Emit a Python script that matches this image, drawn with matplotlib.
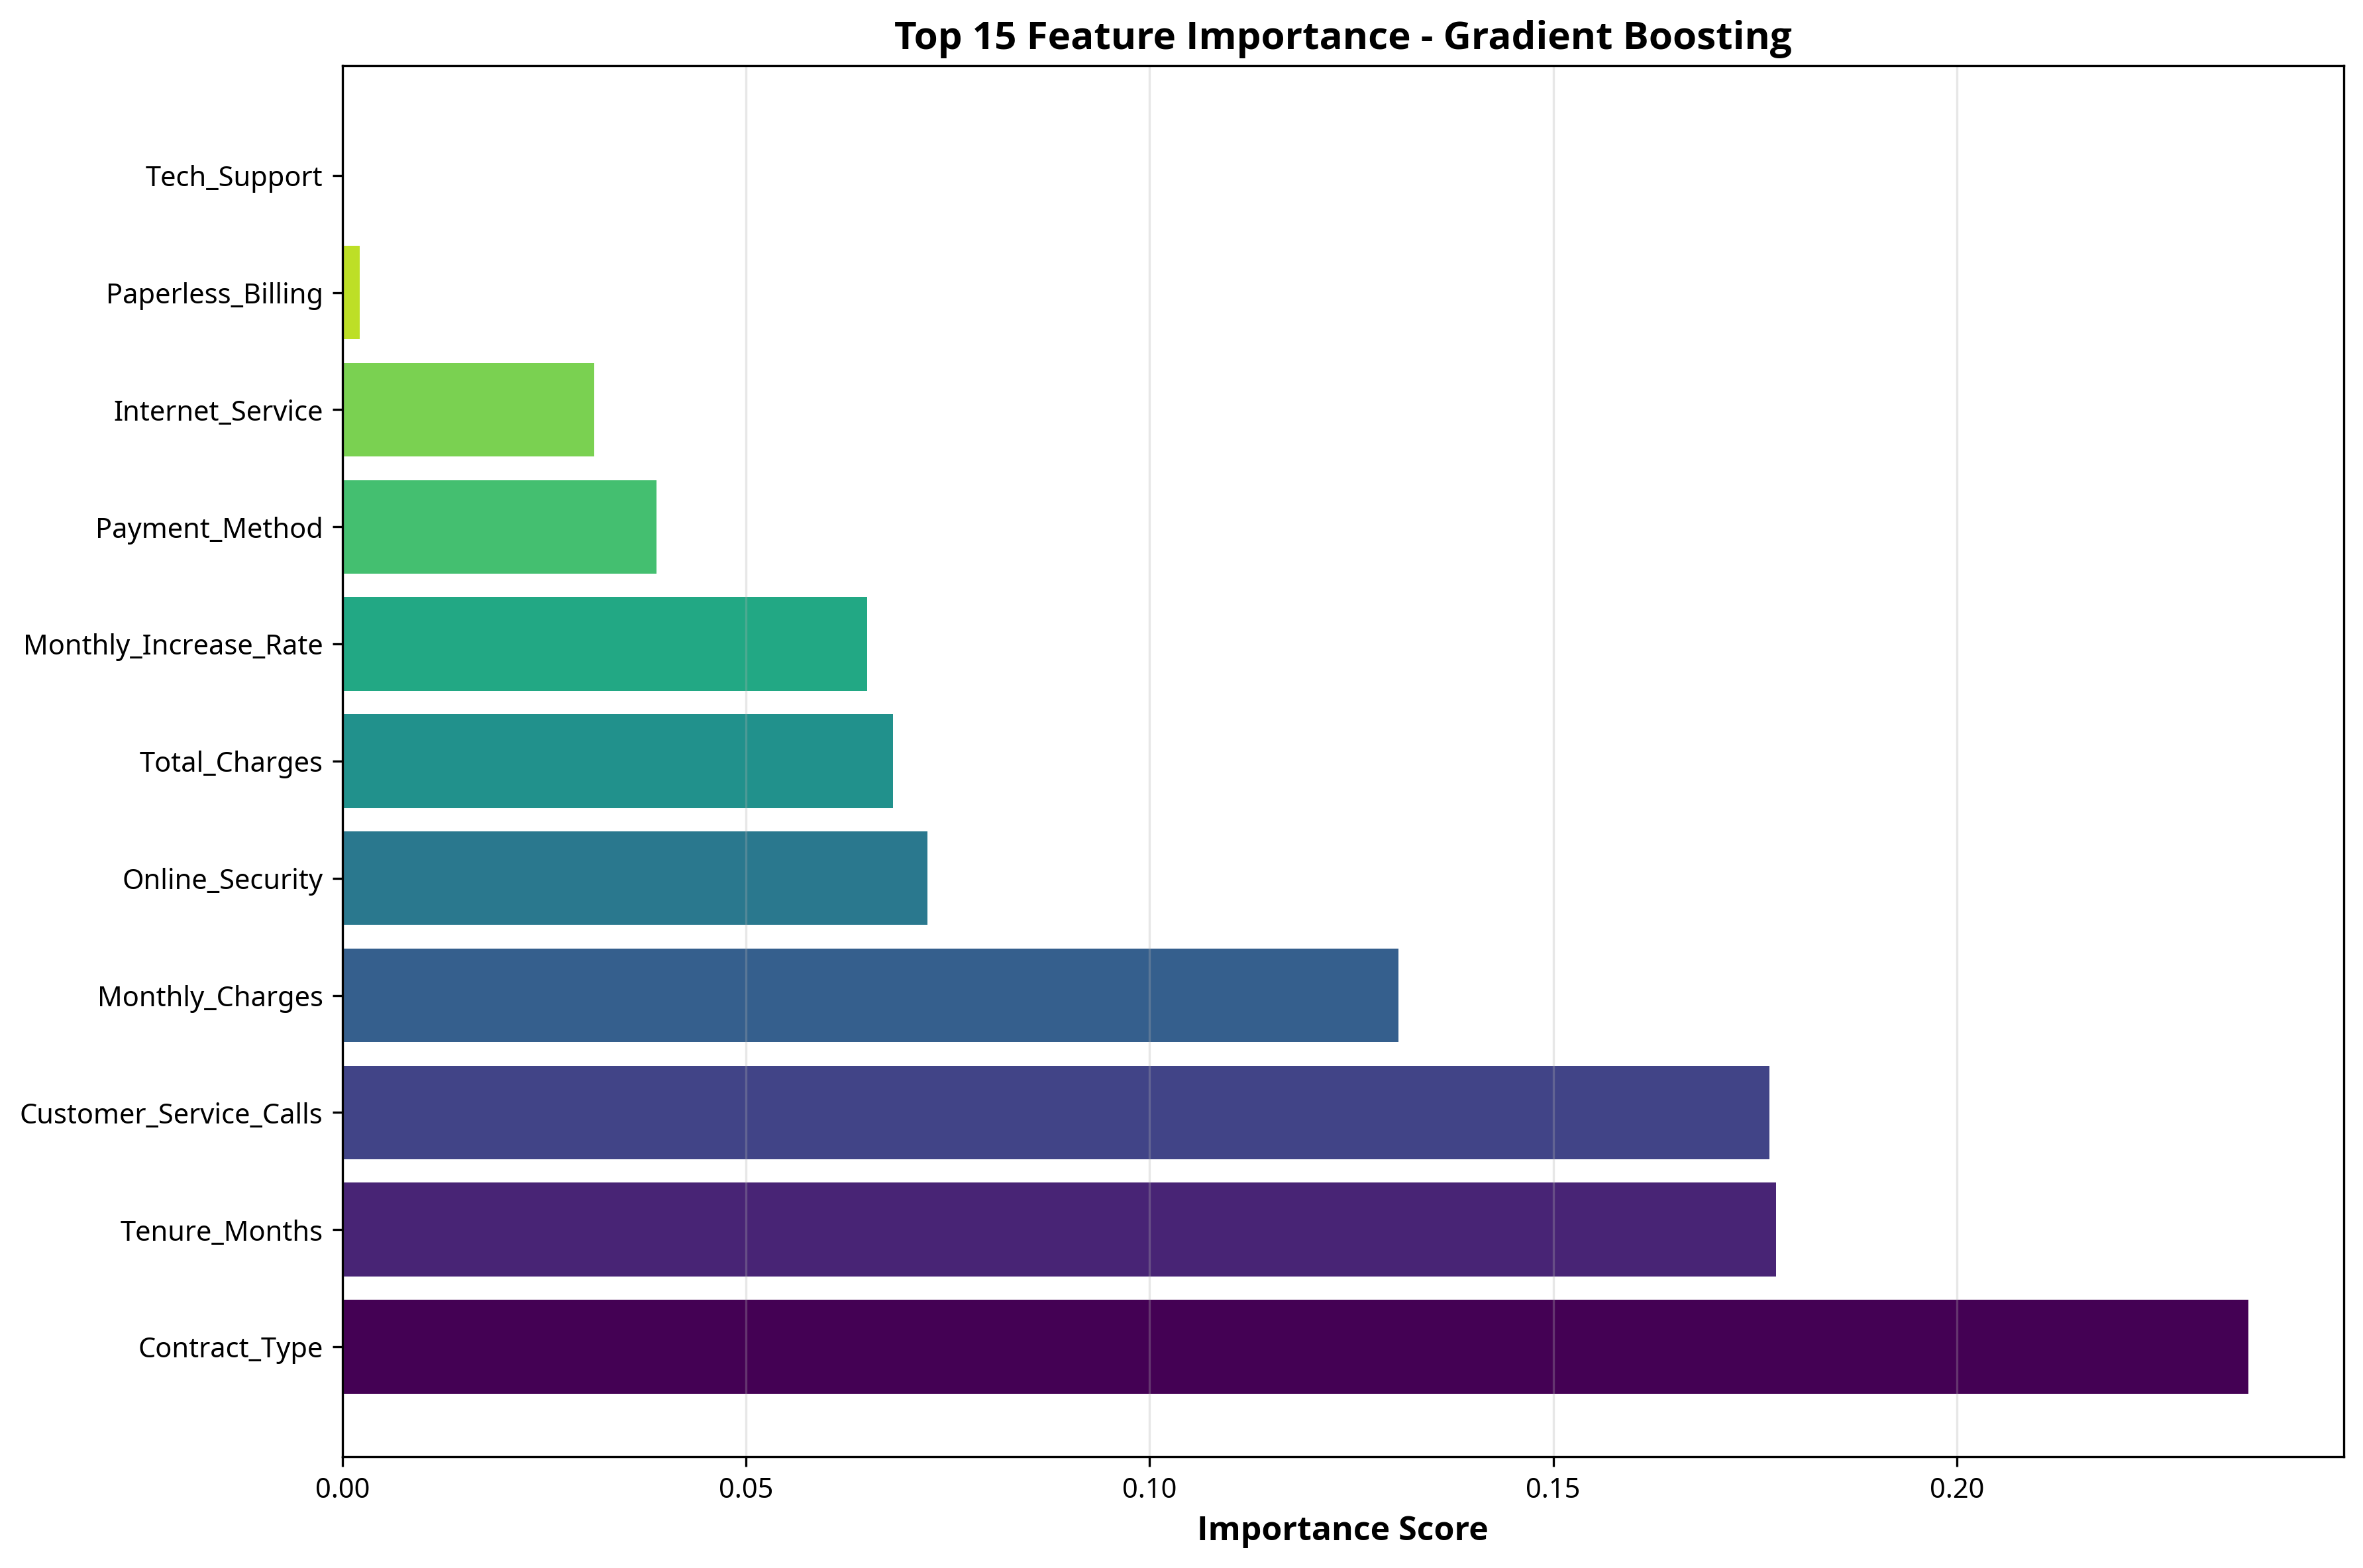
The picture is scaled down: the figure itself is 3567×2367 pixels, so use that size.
import numpy as np
import matplotlib
matplotlib.use("Agg")
import matplotlib.pyplot as plt

plt.rcParams['font.family'] = ['Noto Sans', 'DejaVu Sans']

features = ['Contract_Type', 'Tenure_Months', 'Customer_Service_Calls',
            'Monthly_Charges', 'Online_Security', 'Total_Charges',
            'Monthly_Increase_Rate', 'Payment_Method', 'Internet_Service',
            'Paperless_Billing', 'Tech_Support']
importance = [0.2361, 0.1776, 0.1768, 0.1308, 0.0725, 0.0682,
              0.0650, 0.0389, 0.0312, 0.0021, 0.0]

colors = plt.cm.viridis(np.linspace(0, 1, len(features)))

fig, ax = plt.subplots(figsize=(12, 8.018))
ax.barh(range(len(features)), importance, color=colors)
ax.set_yticks(range(len(features)))
ax.set_yticklabels(features)
# Noto Sans bold isn't picked up here, Open Sans bold is near identical
bold = ['Open Sans', 'DejaVu Sans']
ax.set_xlabel('Importance Score', fontsize=12, fontweight='bold', family=bold)
ax.set_title('Top 15 Feature Importance - Gradient Boosting', fontsize=14,
             fontweight='bold', family=bold)
ax.grid(axis='x', alpha=0.3)

plt.tight_layout()
plt.savefig('out.png', dpi=300, bbox_inches='tight')
